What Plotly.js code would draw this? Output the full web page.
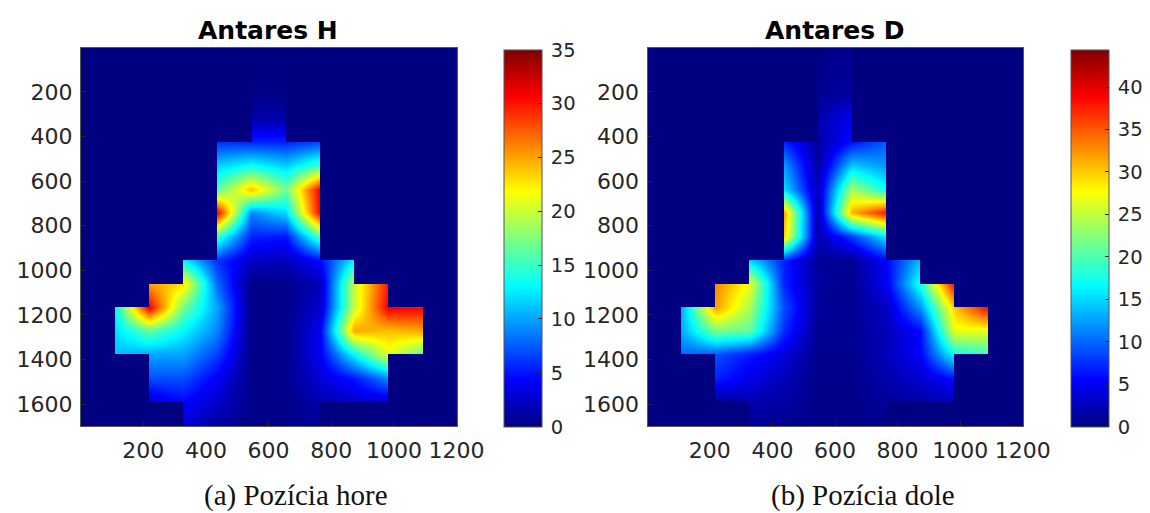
<!DOCTYPE html>
<html><head><meta charset="utf-8">
<script src="https://cdn.plot.ly/plotly-3.0.1.min.js"></script>
<style>html,body{margin:0;padding:0;background:#fff}</style></head>
<body><div id="chart" style="width:1150px;height:513px"></div>
<script>
// Node coordinates of the measurement lattice
const xNodes = [0,109,218,327,436,545,654,763,872,981,1090,1199];
const yNodes = [0,106,212,318,424,530,636,742,848,954,1060,1166,1272,1378,1484,1590,1696];
const xCells = [54.5,163.5,272.5,381.5,490.5,599.5,708.5,817.5,926.5,1035.5,1144.5];
const yCells = [53,159,265,371,477,583,689,795,901,1007,1113,1219,1325,1431,1537,1643];
const xTicks = [200,400,600,800,1000,1200];
const yTicks = [200,400,600,800,1000,1200,1400,1600];
const cbTicksH = [0,5,10,15,20,25,30,35];
const cbTicksD = [0,5,10,15,20,25,30,35,40];

const antaresH = [
 [0,0,0,0,0,0,0,0,0,0,0,0],
 [0,0,0,0,0,0.1,0.1,0,0,0,0,0],
 [0,0,0,0,0,0.3,0.3,0,0,0,0,0],
 [0,0,0,0,0,1.5,1.5,0,0,0,0,0],
 [0,0,0,0,6,5.5,5.5,6.5,0,0,0,0],
 [0,0,0,0,11.5,13.5,11.5,15.5,0,0,0,0],
 [0,0,0,0,16,24,17,31,0,0,0,0],
 [0,0,0,0,31,9,12,31,0,0,0,0],
 [0,0,0,0,15,5.5,5,16,0,0,0,0],
 [0,0,0,13,6,2.5,2,4.5,13,0,0,0],
 [0,0,25,23,8,0.3,0.3,2,20,30,0,0],
 [0,13,31,17,10,0.3,0.4,2.5,20,31,30.5,0],
 [0,12,16.5,13,9,0.3,0.4,4,25,24,25,0],
 [0,11,10,10,6.5,0.3,0.4,4,13,21,16,0],
 [0,0,7,7,4,0.3,0.4,3,5,9,0,0],
 [0,0,3,4.5,2.5,0.3,0.3,1.5,2.5,3,0,0],
 [0,0,0,3,1,0.3,0.3,0.8,0,0,0,0]
];
const antaresD = [
 [0,0,0,0,0,0.2,0.8,0,0,0,0,0],
 [0,0,0,0,0,0.5,1,0,0,0,0,0],
 [0,0,0,0,0,0.8,1.5,0,0,0,0,0],
 [0,0,0,0,0,2,5,0,0,0,0,0],
 [0,0,0,0,7,1.5,6,9.5,0,0,0,0],
 [0,0,0,0,12.5,1.5,14.5,12,0,0,0,0],
 [0,0,0,0,15.5,2.5,24,17,0,0,0,0],
 [0,0,0,0,32,1.5,31,38,0,0,0,0],
 [0,0,0,0,30,2,8,16,0,0,0,0],
 [0,0,0,15,7,1,0.7,5.5,14,0,0,0],
 [0,0,33,27,7,1.5,0.8,5,18,39,0,0],
 [0,13,32,24,9,1,0.8,3,12,30,39,0],
 [0,13,22,21,7.5,1,0.8,2.5,6,27,27,0],
 [0,10,9,6.5,4,0.6,0.6,2.5,5.5,17,19,0],
 [0,0,7,4.5,2.5,0.5,0.5,2,3.5,6,0,0],
 [0,0,1,2,1.5,0.4,0.4,1.2,1.5,3,0,0],
 [0,0,0,1,0.8,0.3,0.3,0.5,0,0,0,0]
];
// Cells outside the measured shape (1 = outside, drawn at the zero colour)
const outsideCells = [
 [1,1,1,1,1,0,1,1,1,1,1],
 [1,1,1,1,1,0,1,1,1,1,1],
 [1,1,1,1,1,0,1,1,1,1,1],
 [1,1,1,1,1,0,1,1,1,1,1],
 [1,1,1,1,0,0,0,1,1,1,1],
 [1,1,1,1,0,0,0,1,1,1,1],
 [1,1,1,1,0,0,0,1,1,1,1],
 [1,1,1,1,0,0,0,1,1,1,1],
 [1,1,1,1,0,0,0,1,1,1,1],
 [1,1,1,0,0,0,0,0,1,1,1],
 [1,1,0,0,0,0,0,0,0,1,1],
 [1,0,0,0,0,0,0,0,0,0,1],
 [1,0,0,0,0,0,0,0,0,0,1],
 [1,1,0,0,0,0,0,0,0,1,1],
 [1,1,0,0,0,0,0,0,0,1,1],
 [1,1,1,0,0,0,0,1,1,1,1]
];
const jet = [[0,'#000080'],[0.125,'#0000ff'],[0.375,'#00ffff'],[0.625,'#ffff00'],[0.875,'#ff0000'],[1,'#800000']];
const navy = '#000080';
const ink = '#262626';
const maskZ = outsideCells.map(r => r.map(v => v ? 0 : null));

const W = 1150, H = 513;
function field(z, max, ticks, xa, ya, cbLeft){
  return {type:'heatmap', x:xNodes, y:yNodes, z:z, xaxis:xa, yaxis:ya, zsmooth:'best',
    colorscale:jet, zmin:0, zmax:max, hoverinfo:'skip',
    colorbar:{x:cbLeft/W, xanchor:'left', y:1-426.7/H, yanchor:'bottom',
      lenmode:'pixels', len:377, thicknessmode:'pixels', thickness:37.5,
      tickmode:'array', tickvals:ticks, ticktext:ticks.map(v => '\u2009' + v), ticks:'inside', ticklen:4, tickcolor:ink,
      tickfont:{family:'DejaVu Sans', size:19.5, color:ink}, outlinecolor:'#555', outlinewidth:1, xpad:0, ypad:0}};
}
function mask(max, xa, ya){
  return {type:'heatmap', x:xCells, y:yCells, z:maskZ, xaxis:xa, yaxis:ya, zsmooth:false,
    colorscale:[[0,navy],[1,navy]], zmin:0, zmax:max, showscale:false, hoverinfo:'skip', hoverongaps:false};
}
function xAxis(l,r,anchor){
  return {domain:[l/W,r/W], range:[1,1200.5], anchor:anchor, tickmode:'array', tickvals:xTicks, ticktext:xTicks.map(String), tickangle:0,
    ticks:'inside', ticklen:4, tickcolor:ink, ticklabelstandoff:5, tickfont:{family:'DejaVu Sans',size:22,color:ink}, showgrid:false, zeroline:false, automargin:false,
    showline:true, mirror:true, linecolor:'#555', linewidth:1};
}
function yAxis(anchor){
  return {domain:[1-426/H,1-47.5/H], range:[1698,1], anchor:anchor, tickmode:'array', tickvals:yTicks, ticktext:yTicks.map(String),
    ticks:'inside', ticklen:4, tickcolor:ink, ticklabelstandoff:3, tickfont:{family:'DejaVu Sans',size:22,color:ink}, showgrid:false, zeroline:false, automargin:false,
    showline:true, mirror:true, linecolor:'#555', linewidth:1};
}
function note(text,x,y,font){
  return {text:text, xref:'paper', yref:'paper', x:x/W, y:1-y/H, xanchor:'center', yanchor:'middle', showarrow:false, borderpad:0, font:font};
}
const titleFont = {family:'DejaVu Sans', size:25, color:'#000', weight:700};
const capFont = {family:'Liberation Serif', size:29, color:'#111'};
const data = [
  field(antaresH,35,cbTicksH,'x','y',504),
  mask(35,'x','y'),
  field(antaresD,44.4,cbTicksD,'x2','y2',1071),
  mask(44.4,'x2','y2')
];
const layout = {
  width:W, height:H, margin:{l:0,r:0,t:0,b:0,autoexpand:false}, paper_bgcolor:'#fff', plot_bgcolor:navy, showlegend:false,
  xaxis:xAxis(81,456.7,'y'), yaxis:yAxis('x'),
  xaxis2:xAxis(647.5,1023,'y2'), yaxis2:yAxis('x2'),
  annotations:[
    note('<b>Antares H</b>',267.5,30,titleFont),
    note('<b>Antares D</b>',835,30,titleFont),
    note('(a) Pozícia hore',295.5,495,capFont),
    note('(b) Pozícia dole',863,495,capFont)
  ]
};
Plotly.newPlot('chart',data,layout,{displayModeBar:false,staticPlot:true});
</script></body></html>
